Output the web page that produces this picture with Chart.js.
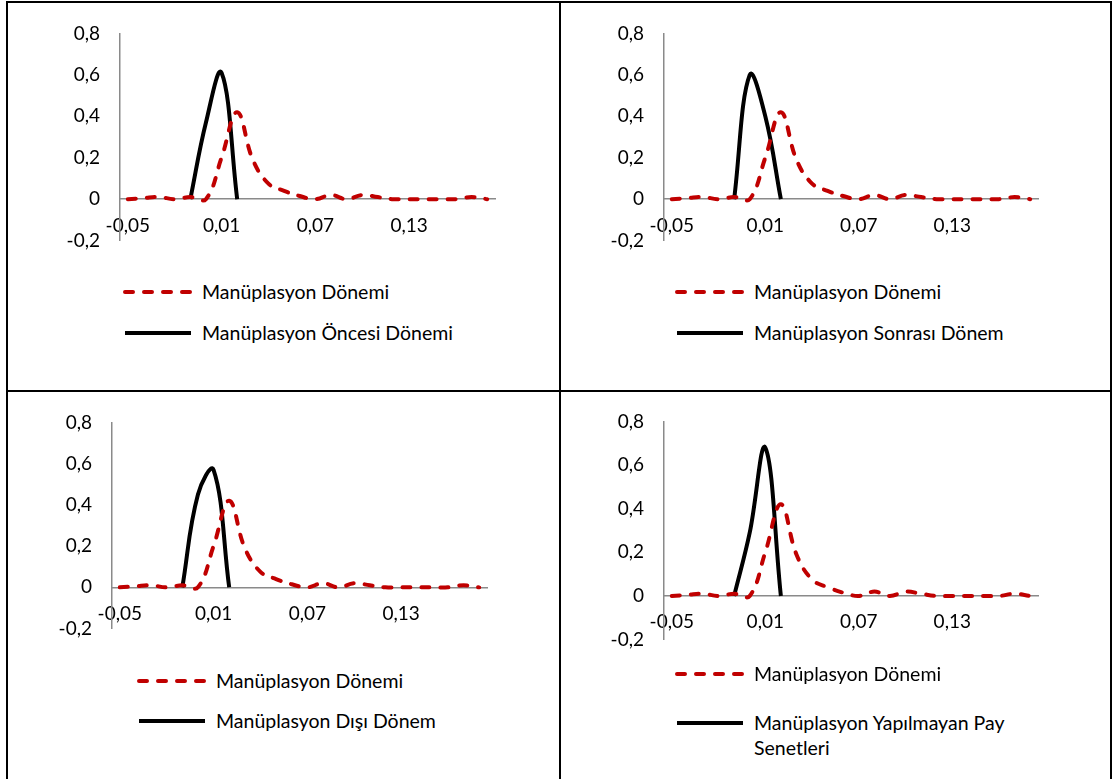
<!DOCTYPE html>
<html lang="tr">
<head>
<meta charset="utf-8">
<title>Manüplasyon dönemleri</title>
<script src="https://cdn.jsdelivr.net/npm/chart.js@4.4.1/dist/chart.umd.min.js"></script>
<style>
  body { margin: 0; background: #fff; }
  #page { position: relative; width: 1112px; height: 779px; overflow: hidden; background: #fff;
          font-family: Lato, "Noto Sans", sans-serif; color: #000; }
  .rule { position: absolute; background: #000; }
  #page canvas { position: absolute; }
  .leg { position: absolute; display: flex; align-items: flex-start; font-size: 19.5px; line-height: 25px; }
  .leg svg { flex: none; margin-top: 10px; margin-right: 9px; }
  .leg span { display: block; }
</style>
</head>
<body>
<div id="page">
  <div class="rule" style="left:6px;top:1px;width:1106px;height:2px"></div>
  <div class="rule" style="left:6px;top:390px;width:1106px;height:2px"></div>
  <div class="rule" style="left:6px;top:1px;width:2px;height:778px"></div>
  <div class="rule" style="left:559px;top:1px;width:2px;height:778px"></div>
  <div class="rule" style="left:1110px;top:1px;width:2px;height:778px"></div>
</div>
<script>
// kategoriler (getiri aralıkları) ve eksen etiketleri
const categories = [-0.05, -0.04, -0.03, -0.02, -0.01, 0.00, 0.01, 0.02, 0.03, 0.04, 0.05, 0.06,
                    0.07, 0.08, 0.09, 0.10, 0.11, 0.12, 0.13, 0.14, 0.15, 0.16, 0.17, 0.18];
const tickLabels = ['-0,05', '0,01', '0,07', '0,13'];
const yTicks = [-0.2, 0, 0.2, 0.4, 0.6, 0.8];

// Manüplasyon dönemi (her grafikte aynı kırmızı seri)
const manipulasyonDonemi = [0, 0.005, 0.01, 0, 0.01, 0, 0.2, 0.42, 0.19, 0.075, 0.04, 0.015,
                            0, 0.02, 0, 0.02, 0.01, 0, 0, 0, 0, 0, 0.01, 0];

// karşılaştırma serileri
const oncesiDonemi = [null, null, null, null, 0, 0.37, 0.61, 0, null, null, null, null,
                      null, null, null, null, null, null, null, null, null, null, null, null];
const sonrasiDonem = [null, null, null, null, 0, 0.6, 0.4, 0, null, null, null, null,
                      null, null, null, null, null, null, null, null, null, null, null, null];
const disiDonem = [null, null, null, null, 0, 0.45, 0.57, 0, null, null, null, null,
                   null, null, null, null, null, null, null, null, null, null, null, null];
const yapilmayanPay = [null, null, null, null, 0, 0.29, 0.68, 0, null, null, null, null,
                       null, null, null, null, null, null, null, null, null, null, null, null];

const FONT = 'Lato, "Noto Sans", sans-serif';
const AXIS_W = 60;   // y ekseni etiket alanı

function fmt2(v) { return v.toFixed(2).replace('.', ','); }
function fmt1(v) { return Math.abs(v) < 1e-9 ? '0' : v.toFixed(1).replace('.', ','); }

// her panel: çizim alanı kutusu ve lejant konumu
const panels = [
  { area: { l: 120, t: 33, w: 375, h: 207 }, legend: { x: 123, y: [279, 320] },
    label: 'Manüplasyon Öncesi Dönemi', data: oncesiDonemi },
  { area: { l: 664, t: 33, w: 374, h: 207 }, legend: { x: 675, y: [279, 320] },
    label: 'Manüplasyon Sonrası Dönem', data: sonrasiDonem },
  { area: { l: 112, t: 422.5, w: 375, h: 206 }, legend: { x: 137, y: [668, 708] },
    label: 'Manüplasyon Dışı Dönem', data: disiDonem },
  { area: { l: 664, t: 421.7, w: 374, h: 218.5 }, legend: { x: 675, y: [661, 710] },
    label: 'Manüplasyon Yapılmayan Pay Senetleri', data: yapilmayanPay, wrap: 300 }
];

const page = document.getElementById('page');

function chartConfig(p) {
  return {
    type: 'line',
    data: {
      labels: categories.map(fmt2),
      datasets: [
        {
          label: 'Manüplasyon Dönemi',
          data: manipulasyonDonemi,
          borderColor: '#C00000',
          borderWidth: 4,
          borderDash: [8, 11],
          borderCapStyle: 'round',
          pointRadius: 0,
          tension: 0.4,
          fill: false
        },
        {
          label: p.label,
          data: p.data,
          borderColor: '#000000',
          borderWidth: 4,
          pointRadius: 0,
          tension: 0.4,
          spanGaps: false,
          fill: false
        }
      ]
    },
    options: {
      responsive: false,
      animation: false,
      layout: { padding: { top: 0, bottom: 0, left: 0, right: 8 } },
      plugins: { legend: { display: false }, tooltip: { enabled: false } },
      scales: {
        x: {
          type: 'category',
          offset: true,
          position: { y: 0 },
          grid: { display: false, drawTicks: false },
          border: { color: '#8a8a8a', width: 1.5 },
          ticks: {
            autoSkip: false,
            maxRotation: 0,
            padding: 15,
            color: '#000',
            font: { family: FONT, size: 19 },
            callback: function (value) {
              const lab = this.getLabelForValue(value);
              return tickLabels.includes(lab) ? lab : '';
            }
          },
          afterFit: s => { s.height = 0; }
        },
        y: {
          min: -0.2,
          max: 0.8,
          grid: { display: false, drawTicks: false },
          border: { color: '#8a8a8a', width: 1.5 },
          ticks: {
            padding: 20,
            color: '#000',
            font: { family: FONT, size: 19 },
            callback: v => fmt1(v)
          },
          afterBuildTicks: s => { s.ticks = yTicks.map(v => ({ value: v })); },
          afterFit: s => { s.width = AXIS_W; }
        }
      }
    }
  };
}

function drawPanel(p) {
  const canvas = document.createElement('canvas');
  canvas.width = p.area.w + 100;
  canvas.height = p.area.h + 60;
  page.appendChild(canvas);

  // ilk çizim: eksen boşluklarını ölç, sonra tuvali çizim alanına göre yerleştir
  let chart = new Chart(canvas.getContext('2d'), chartConfig(p));
  const ca = chart.chartArea;
  const extraW = canvas.width - (ca.right - ca.left);
  const extraH = canvas.height - (ca.bottom - ca.top);
  const offL = ca.left, offT = ca.top;
  chart.destroy();

  canvas.width = Math.round(p.area.w + extraW);
  canvas.height = Math.round(p.area.h + extraH);
  canvas.style.left = (p.area.l - offL) + 'px';
  canvas.style.top = (p.area.t - offT) + 'px';
  chart = new Chart(canvas.getContext('2d'), chartConfig(p));

  // lejant: veri kümelerinden üretilir
  chart.data.datasets.forEach((ds, i) => {
    const row = document.createElement('div');
    row.className = 'leg';
    row.style.left = p.legend.x + 'px';
    row.style.top = p.legend.y[i] + 'px';
    const dash = ds.borderDash ? `stroke-dasharray="8 11" stroke-linecap="round"` : '';
    row.innerHTML =
      `<svg width="70" height="6"><line x1="2" y1="3" x2="68" y2="3" stroke="${ds.borderColor}" stroke-width="4" ${dash}/></svg>` +
      `<span${p.wrap && i === 1 ? ` style="width:${p.wrap}px"` : ''}>${ds.label}</span>`;
    page.appendChild(row);
  });
}

panels.forEach(drawPanel);
</script>
</body>
</html>
